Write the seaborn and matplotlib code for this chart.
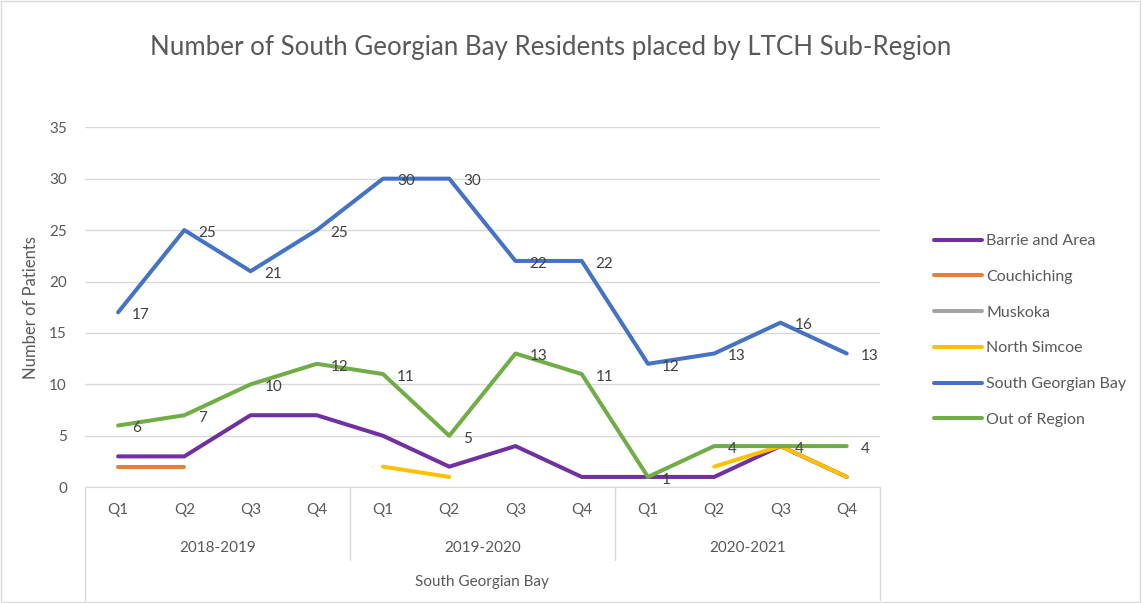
import numpy as np
import pandas as pd
import matplotlib
matplotlib.use('Agg')
import matplotlib.pyplot as plt
from matplotlib.lines import Line2D
import seaborn as sns

quarters = ['Q1', 'Q2', 'Q3', 'Q4'] * 3
years = ['2018-2019', '2019-2020', '2020-2021']
regions = ['Barrie and Area', 'Couchiching', 'Muskoka', 'North Simcoe',
           'South Georgian Bay', 'Out of Region']
nan = np.nan
barrie = [3, 3, 7, 7, 5, 2, 4, 1, 1, 1, 4, 1]
couchiching = [2, 2, nan, nan, nan, nan, nan, nan, nan, nan, nan, nan]
muskoka = [nan] * 12
north_simcoe = [nan, nan, nan, nan, 2, 1, nan, nan, nan, 2, 4, 1]
sgb = [17, 25, 21, 25, 30, 30, 22, 22, 12, 13, 16, 13]
out_region = [6, 7, 10, 12, 11, 5, 13, 11, 1, 4, 4, 4]
colors = ['#7030A0', '#ED7D31', '#A5A5A5', '#FFC000', '#4472C4', '#70AD47']

series = dict(zip(regions, [barrie, couchiching, muskoka, north_simcoe, sgb, out_region]))

# long format, split into contiguous segments so gaps stay gaps
rows = []
for name, vals in series.items():
    seg = 0
    prev = False
    for i, v in enumerate(vals):
        if np.isnan(v):
            if prev:
                seg += 1
            prev = False
            continue
        rows.append({'x': i, 'value': v, 'region': name, 'seg': f'{name}-{seg}'})
        prev = True
df = pd.DataFrame(rows)

sns.set_style('white')
plt.rcParams['font.family'] = ['Lato', 'DejaVu Sans']

fig = plt.figure(figsize=(11.42, 6.03), dpi=100)
ax = fig.add_axes([0.0744, 0.192, 0.6960, 0.597])

present = [r for r in regions if r in df['region'].unique()]
sns.lineplot(data=df, x='x', y='value', hue='region', units='seg', estimator=None,
             hue_order=present, palette=dict(zip(regions, colors)), lw=2.9,
             legend=False, ax=ax, solid_capstyle='round')

# data labels
for name in ['South Georgian Bay', 'Out of Region']:
    for i, v in enumerate(series[name]):
        ax.annotate(f'{int(v)}', (i, v), xytext=(10, -2), textcoords='offset points',
                    ha='left', va='center', fontsize=11, color='#404040')

ax.set_xlim(-0.5, 11.5)
ax.set_ylim(0, 35)
ax.set_yticks(range(0, 36, 5))
ax.tick_params(axis='y', labelsize=11, labelcolor='#595959', length=0, pad=13)
ax.set_xticks([])
ax.grid(axis='y', color='#D9D9D9', lw=1)
for s in ['top', 'right', 'left']:
    ax.spines[s].set_visible(False)
ax.spines['bottom'].set_color('#D9D9D9')
ax.set_xlabel('')
ax.set_ylabel('Number of Patients', fontsize=12, color='#595959')
ax.yaxis.set_label_coords(-0.058, 0.5)

# multi-level category axis
tr = ax.get_xaxis_transform()
def axy(px):
    # pixel row from top -> axes fraction
    return (487 - px) / (487 - 127)

for i, q in enumerate(quarters):
    ax.text(i, axy(510), q, transform=tr, ha='center', va='center', fontsize=11, color='#595959')
for k, y in enumerate(years):
    ax.text(4 * k + 1.5, axy(548), y, transform=tr, ha='center', va='center', fontsize=11, color='#595959')
ax.text(5.5, axy(582), 'South Georgian Bay', transform=tr, ha='center', va='center',
        fontsize=11, color='#595959')
lc = '#D9D9D9'
for xb in [3.5, 7.5]:
    ax.plot([xb, xb], [0, axy(560)], transform=tr, color=lc, lw=1, clip_on=False)
for xb in [-0.5, 11.5]:
    ax.plot([xb, xb], [0, axy(600)], transform=tr, color=lc, lw=1, clip_on=False)

fig.text(0.482, 1 - 48 / 603, 'Number of South Georgian Bay Residents placed by LTCH Sub-Region',
         ha='center', va='center', fontsize=18.6, color='#595959')

handles = [Line2D([], [], color=c, lw=2.9) for c in colors]
fig.legend(handles, regions, loc='center left', bbox_to_anchor=(0.805, 0.452),
           frameon=False, fontsize=11.5, labelcolor='#595959', handlelength=3.0,
           handletextpad=0.3, labelspacing=1.35)

fig.patches.append(plt.Rectangle((0.001, 0.001), 0.997, 0.997, transform=fig.transFigure,
                                 fill=False, edgecolor='#D9D9D9', lw=1))

fig.savefig('out.png', dpi=100)
